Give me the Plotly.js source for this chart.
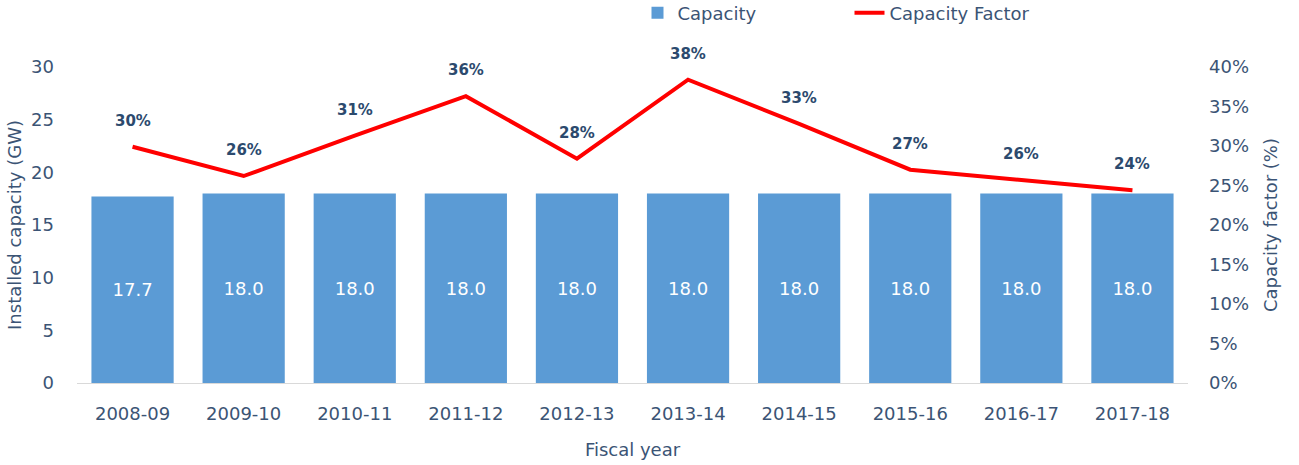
<!DOCTYPE html>
<html>
<head>
<meta charset="utf-8">
<script src="https://cdn.plot.ly/plotly-3.0.1.min.js"></script>
<style>
  html, body { margin: 0; padding: 0; background: #ffffff; }
  #chart { width: 1299px; height: 465px; }
</style>
</head>
<body>
<div id="chart"></div>
<script>
// Fiscal years on the category axis
const fiscalYears = ['2008-09', '2009-10', '2010-11', '2011-12', '2012-13',
                     '2013-14', '2014-15', '2015-16', '2016-17', '2017-18'];
// Installed capacity in GW
const capacityGW = [17.7, 18.0, 18.0, 18.0, 18.0, 18.0, 18.0, 18.0, 18.0, 18.0];
// Capacity factor as a fraction
const capacityFactor = [0.299, 0.262, 0.313, 0.363, 0.284, 0.384, 0.328, 0.270, 0.257, 0.244];

const FONT = 'DejaVu Sans, Noto Sans, sans-serif';
const TEXT = '#3b5475';
const LABEL = '#2c4a6e';

const bars = {
  type: 'bar',
  name: 'Capacity',
  x: fiscalYears,
  y: capacityGW,
  marker: { color: '#5b9bd5' },
  text: capacityGW.map(v => v.toFixed(1)),
  textposition: 'inside',
  insidetextanchor: 'middle',
  textfont: { family: FONT, size: 18, color: '#ffffff' },
  hoverinfo: 'x+y'
};

const line = {
  type: 'scatter',
  mode: 'lines',
  name: 'Capacity Factor',
  x: fiscalYears,
  y: capacityFactor,
  yaxis: 'y2',
  line: { color: '#ff0000', width: 4 },
  hoverinfo: 'x+y'
};

// Percentage labels sitting above each point of the line
const factorLabels = fiscalYears.map((yr, i) => ({
  x: yr,
  y: capacityFactor[i],
  xref: 'x',
  yref: 'y2',
  text: Math.round(capacityFactor[i] * 100) + '%',
  showarrow: false,
  yshift: 26,
  font: { family: FONT, size: 15, color: LABEL, weight: 'bold' }
}));

const layout = {
  width: 1299,
  height: 465,
  margin: { l: 77, r: 111, t: 67, b: 82, autoexpand: false },
  paper_bgcolor: '#ffffff',
  plot_bgcolor: '#ffffff',
  font: { family: FONT, size: 18, color: TEXT },
  bargap: 0.26,
  showlegend: true,
  legend: {
    orientation: 'h',
    x: 0.5045, xanchor: 'left',
    y: 1.171, yanchor: 'middle',
    entrywidth: 167, entrywidthmode: 'pixels',
    font: { family: FONT, size: 18, color: TEXT },
    traceorder: 'normal'
  },
  xaxis: {
    type: 'category',
    showgrid: false,
    showline: true,
    linecolor: '#d9d9d9',
    linewidth: 1,
    ticks: '',
    ticklabelstandoff: 14,
    tickfont: { family: FONT, size: 18, color: TEXT },
    title: { text: 'Fiscal year', font: { family: FONT, size: 18, color: TEXT }, standoff: 20 },
    zeroline: false
  },
  yaxis: {
    range: [0, 30],
    dtick: 5,
    showgrid: false,
    zeroline: false,
    showline: false,
    ticks: '',
    ticklabelstandoff: 22,
    tickfont: { family: FONT, size: 18, color: TEXT },
    title: { text: 'Installed capacity (GW)', font: { family: FONT, size: 18, color: TEXT }, standoff: 4 }
  },
  yaxis2: {
    overlaying: 'y',
    side: 'right',
    range: [0, 0.40],
    dtick: 0.05,
    tickformat: '.0%',
    showgrid: false,
    zeroline: false,
    showline: false,
    ticks: '',
    ticklabelstandoff: 20,
    tickfont: { family: FONT, size: 18, color: TEXT },
    title: { text: 'Capacity factor (%)', font: { family: FONT, size: 18, color: TEXT }, standoff: 16 }
  },
  annotations: factorLabels
};

Plotly.newPlot('chart', [bars, line], layout, { displayModeBar: false, staticPlot: true });
</script>
</body>
</html>
